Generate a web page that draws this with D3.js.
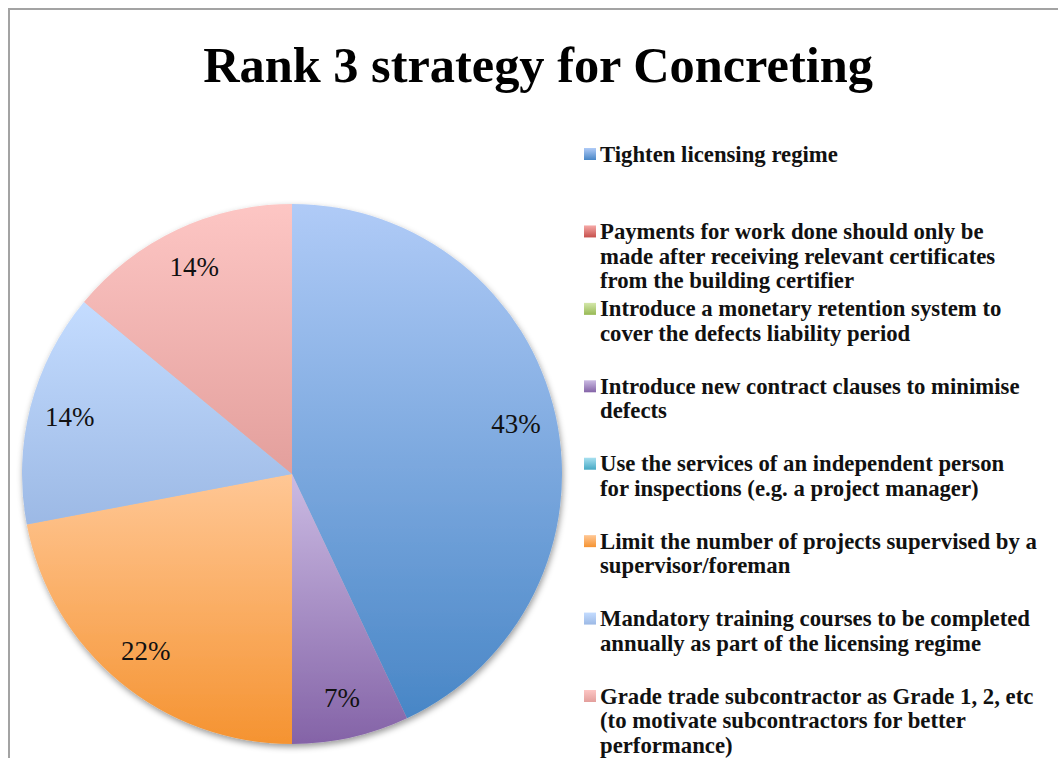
<!DOCTYPE html>
<html>
<head>
<meta charset="utf-8">
<script src="https://cdn.jsdelivr.net/npm/d3@7"></script>
<style>
  html, body { margin: 0; padding: 0; background: #fff; }
  svg { display: block; }
  .title { font-family: "Liberation Serif", "DejaVu Serif", serif; font-weight: bold; }
  .legend text { font-family: "Liberation Serif", "DejaVu Serif", serif; font-weight: bold; fill: #111; }
  .pct { font-family: "Liberation Serif", "DejaVu Serif", serif; fill: #111; }
</style>
</head>
<body>
<div id="chart"></div>
<script>
const W = 1058, H = 758;
const TITLE = "Rank 3 strategy for Concreting";

// legend entries (as wrapped in the picture)
const categories = [
  ["Tighten licensing regime"],
  ["Payments for work done should only be", "made after receiving relevant certificates", "from the building certifier"],
  ["Introduce a monetary retention system to", "cover the defects liability period"],
  ["Introduce new contract clauses to minimise", "defects"],
  ["Use the services of an independent person", "for inspections (e.g. a project manager)"],
  ["Limit the number of projects supervised by a", "supervisor/foreman"],
  ["Mandatory training courses to be completed", "annually as part of the licensing regime"],
  ["Grade trade subcontractor as Grade 1, 2, etc", "(to motivate subcontractors for better", "performance)"]
];
const shares = [43, 0, 0, 7, 0, 22, 14, 14];
const colorsTop = ["#b0cbf7", "#f6aaa8", "#d4e7aa", "#cbbbe3", "#a8e0f0", "#ffc795", "#c4dcff", "#fdc6c4"];
const colorsBottom = ["#4886c6", "#c64f4b", "#97b954", "#8463a7", "#45a9c4", "#f59331", "#9cb9e5", "#e39f9c"];

const svg = d3.select("#chart").append("svg").attr("width", W).attr("height", H);
const defs = svg.append("defs");

shares.forEach((v, i) => {
  const gr = defs.append("linearGradient").attr("id", "g" + i).attr("x1", 0).attr("y1", 0).attr("x2", 0).attr("y2", 1);
  gr.append("stop").attr("offset", "0%").attr("stop-color", colorsTop[i]);
  gr.append("stop").attr("offset", "100%").attr("stop-color", colorsBottom[i]);
});
const sh = defs.append("filter").attr("id", "shadow").attr("x", "-10%").attr("y", "-10%").attr("width", "120%").attr("height", "120%");
sh.append("feDropShadow").attr("dx", 1).attr("dy", 3).attr("stdDeviation", 3).attr("flood-color", "#000").attr("flood-opacity", 0.4);

// frame
svg.append("path").attr("d", `M9,${H} V9 H${W}`).attr("fill", "none").attr("stroke", "#a3a3a3").attr("stroke-width", 2);

// title, fitted to the width it takes in the picture
const title = svg.append("text").attr("class", "title").attr("x", 538).attr("y", 82)
  .attr("text-anchor", "middle").attr("font-size", 48).text(TITLE);
const tw = title.node().getComputedTextLength();
title.attr("font-size", 48 * 670 / tw);

// pie
const cx = 292, cy = 474, R = 270;
const pie = d3.pie().sort(null).value(d => d)(shares);
const arc = d3.arc().innerRadius(0).outerRadius(R);
const labelArc = d3.arc().innerRadius(R * 0.85).outerRadius(R * 0.85);

const pg = svg.append("g").attr("transform", `translate(${cx},${cy})`);
pg.append("g").attr("filter", "url(#shadow)")
  .selectAll("path").data(pie).join("path")
  .attr("d", arc)
  .attr("fill", d => `url(#g${d.index})`);

pg.selectAll("text.pct").data(pie.filter(d => d.data > 0)).join("text")
  .attr("class", "pct")
  .attr("transform", d => `translate(${labelArc.centroid(d)})`)
  .attr("text-anchor", "middle").attr("dy", "0.35em")
  .attr("font-size", 27)
  .text(d => d.data + "%");

// legend
const lx = 584, ly = d3.scaleLinear().domain([0, categories.length - 1]).range([154, 696]);
const lineH = 24.6;
const lg = svg.append("g").attr("class", "legend");
const items = lg.selectAll("g").data(categories).join("g")
  .attr("transform", (d, i) => `translate(${lx},${ly(i)})`);
items.append("rect").attr("x", 0).attr("y", -6).attr("width", 12).attr("height", 12)
  .attr("fill", (d, i) => `url(#g${i})`);
const txt = items.append("text").attr("x", 16).attr("font-size", 20);
txt.selectAll("tspan").data(d => d).join("tspan")
  .attr("x", 16).attr("y", (d, j) => j * lineH).attr("dy", "0.33em").text(d => d);

// fit legend font to the widest line's width in the picture
let maxW = 0;
lg.selectAll("tspan").each(function () { maxW = Math.max(maxW, this.getComputedTextLength()); });
txt.attr("font-size", Math.min(23, 20 * 437 / maxW));
</script>
</body>
</html>
